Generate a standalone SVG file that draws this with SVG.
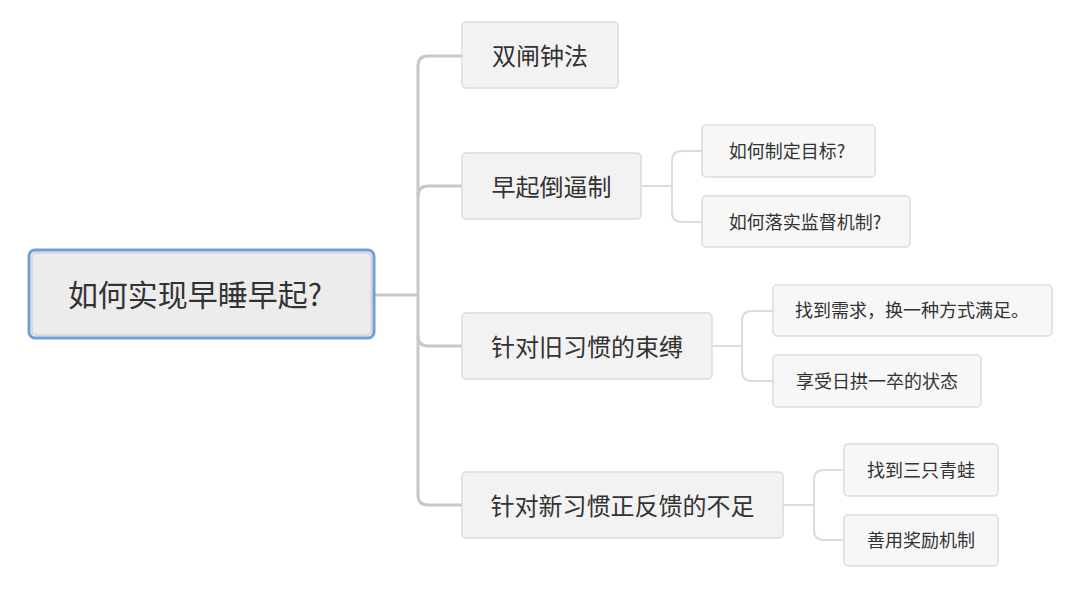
<svg xmlns="http://www.w3.org/2000/svg" width="1080" height="609" viewBox="0 0 1080 609">
<style>
text{font-family:"Noto Sans CJK SC","Noto Sans",sans-serif;fill:#333;text-anchor:middle;dominant-baseline:central}
.l1 rect{fill:#f2f2f2;stroke:#dcdcdc;stroke-width:1.5}
.l1 text{font-size:24px}
.l2 rect{fill:#f7f7f7;stroke:#dcdcdc;stroke-width:1.5}
.l2 text{font-size:18px}
.trunk{fill:none;stroke:#c8c8c8;stroke-width:3}
.branch{fill:none;stroke:#dcdcdc;stroke-width:2}
</style>
<rect width="1080" height="609" fill="#fff"/>
<g id="connectors">
<path class="trunk" d="M375 295 H418"/>
<path class="trunk" d="M462 56 H428 Q418 56 418 66 V495 Q418 505 428 505 H462"/>
<path class="trunk" d="M418 196 Q418 186 428 186 H462"/>
<path class="trunk" d="M418 336 Q418 346 428 346 H462"/>
<path class="branch" d="M641 186 H672"/>
<path class="branch" d="M702 151 H682 Q672 151 672 161 V212 Q672 222 682 222 H702"/>
<path class="branch" d="M712 346 H742"/>
<path class="branch" d="M773 311 H752 Q742 311 742 321 V371 Q742 381 752 381 H773"/>
<path class="branch" d="M783 505 H814"/>
<path class="branch" d="M844 470 H824 Q814 470 814 480 V530 Q814 540 824 540 H844"/>
</g>
<g id="root">
<rect x="29" y="250" width="345" height="88" rx="6" fill="#ececec" stroke="#6fa0dc" stroke-width="3"/>
<rect x="32" y="253" width="339" height="82" rx="4" fill="none" stroke="#d4d4d4" stroke-width="1.5"/>
<text x="195" y="293" style="font-size:30px">如何实现早睡早起?</text>
</g>
<g id="n1" class="l1"><rect x="462" y="22" width="156" height="66" rx="4"/><text x="540" y="54">双闸钟法</text></g>
<g id="n2" class="l1"><rect x="462" y="153" width="179" height="66" rx="4"/><text x="551.5" y="185">早起倒逼制</text></g>
<g id="n3" class="l1"><rect x="462" y="313" width="250" height="66" rx="4"/><text x="587" y="345">针对旧习惯的束缚</text></g>
<g id="n4" class="l1"><rect x="462" y="472" width="321" height="66" rx="4"/><text x="622.5" y="504">针对新习惯正反馈的不足</text></g>
<g id="n21" class="l2"><rect x="702" y="125" width="173" height="52" rx="4"/><text x="787" y="150">如何制定目标?</text></g>
<g id="n22" class="l2"><rect x="702" y="196" width="208" height="51" rx="4"/><text x="805" y="221">如何落实监督机制?</text></g>
<g id="n31" class="l2"><rect x="773" y="285" width="279" height="51" rx="4"/><text x="912" y="309">找到需求，换一种方式满足。</text></g>
<g id="n32" class="l2"><rect x="773" y="355" width="208" height="52" rx="4"/><text x="877" y="380">享受日拱一卒的状态</text></g>
<g id="n41" class="l2"><rect x="844" y="444" width="154" height="52" rx="4"/><text x="921" y="469">找到三只青蛙</text></g>
<g id="n42" class="l2"><rect x="844" y="515" width="154" height="51" rx="4"/><text x="921" y="539">善用奖励机制</text></g>
</svg>
